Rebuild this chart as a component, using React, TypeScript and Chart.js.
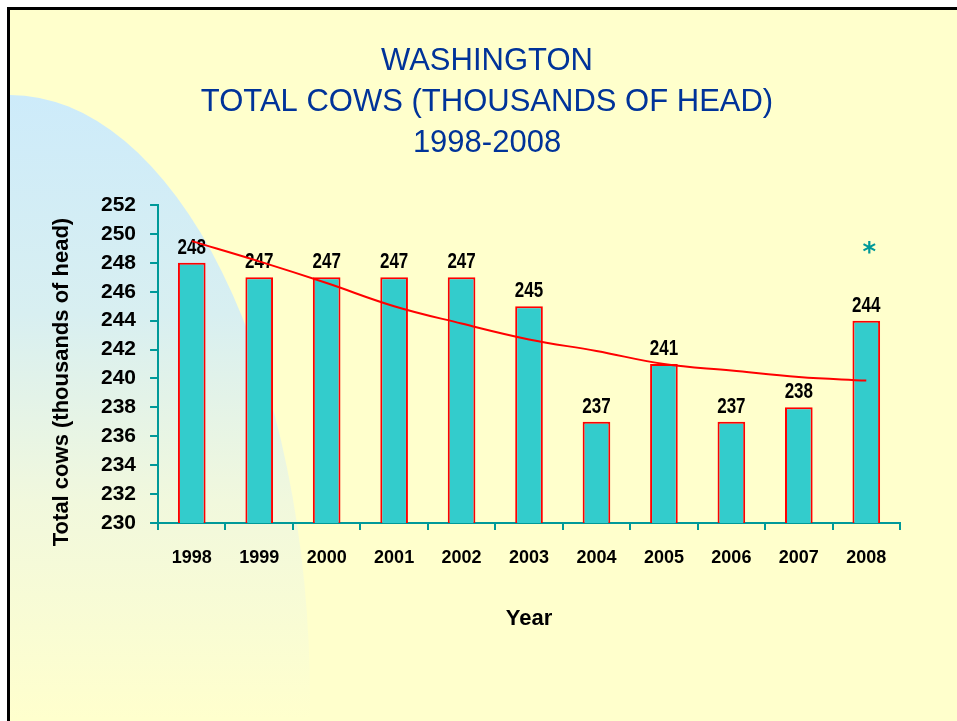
import React, { useEffect, useRef } from 'react';
import { Chart, registerables } from 'chart.js';

Chart.register(...registerables);

const years = ['1998', '1999', '2000', '2001', '2002', '2003', '2004', '2005', '2006', '2007', '2008'];
const totalCows = [248, 247, 247, 247, 247, 245, 237, 241, 237, 238, 244];
const trendValues = [249.5, 248.1, 246.6, 245.0, 243.8, 242.7, 241.9, 241.0, 240.55, 240.1, 239.85];
const noteMarks = ['', '', '', '', '', '', '', '', '', '', '*'];
const noteLevels = [null, null, null, null, null, null, null, null, null, null, 248.5];
const titleLines = ['WASHINGTON', 'TOTAL COWS (THOUSANDS OF HEAD)', '1998-2008'];
const yAxisTitle = 'Total cows (thousands of head)';
const xAxisTitle = 'Year';
const yMin = 230;
const yMax = 252;
const yStep = 2;

const TEAL = '#009999';
const FONT = "'Liberation Sans', Arial, sans-serif";

const backgroundPlugin = {
  id: 'slideBackground',
  beforeDraw(chart: any) {
    const { ctx, width, height } = chart;
    ctx.save();
    ctx.fillStyle = '#ffffff';
    ctx.fillRect(0, 0, width, height);
    ctx.fillStyle = '#FFFFCC';
    ctx.fillRect(8, 8, width - 8, height - 8);
    ctx.beginPath();
    ctx.rect(10, 10, width, height);
    ctx.clip();
    const g = ctx.createLinearGradient(0, 95, 0, 720);
    g.addColorStop(0, '#CDEBFA');
    g.addColorStop(0.35, '#D8EFF1');
    g.addColorStop(0.65, '#F1F8DD');
    g.addColorStop(1, '#FFFFCD');
    ctx.fillStyle = g;
    ctx.beginPath();
    ctx.ellipse(10, 700, 300, 605, 0, 0, Math.PI * 2);
    ctx.fill();
    ctx.restore();
    ctx.save();
    ctx.fillStyle = '#000000';
    ctx.fillRect(7, 7, 3, height - 7);
    ctx.fillRect(7, 7, width - 7, 3);
    ctx.restore();
  },
};

const slideTitlePlugin = {
  id: 'slideTitle',
  afterDraw(chart: any) {
    const { ctx } = chart;
    ctx.save();
    ctx.fillStyle = '#003399';
    ctx.font = `31px ${FONT}`;
    ctx.textAlign = 'center';
    ctx.textBaseline = 'alphabetic';
    titleLines.forEach((line, i) => {
      ctx.fillText(line, 487, 70 + i * 41);
    });
    ctx.restore();
  },
};

const barLabelPlugin = {
  id: 'barLabels',
  afterDatasetDraw(chart: any, args: any) {
    if (args.index !== 0) return;
    const { ctx } = chart;
    const meta = chart.getDatasetMeta(0);
    ctx.save();
    ctx.fillStyle = '#000000';
    ctx.textAlign = 'center';
    ctx.textBaseline = 'alphabetic';
    ctx.font = `bold 17px ${FONT}`;
    meta.data.forEach((bar: any, i: number) => {
      const x = bar.x;
      const y = bar.y - 9;
      ctx.save();
      ctx.translate(x, y);
      ctx.scale(1, 1.3);
      ctx.fillText(String(totalCows[i]), 0, 0);
      ctx.restore();
    });
    ctx.restore();
  },
};

const extrasPlugin = {
  id: 'extras',
  afterDraw(chart: any) {
    const { ctx, chartArea, scales } = chart;
    ctx.save();
    ctx.fillStyle = '#000000';
    ctx.font = `bold 22px ${FONT}`;
    ctx.textAlign = 'center';
    ctx.textBaseline = 'middle';
    ctx.translate(62, (chartArea.top + chartArea.bottom) / 2 + 18);
    ctx.rotate(-Math.PI / 2);
    ctx.fillText(yAxisTitle, 0, 0);
    ctx.restore();
    ctx.save();
    ctx.fillStyle = TEAL;
    ctx.font = `bold 26px 'DejaVu Sans', sans-serif`;
    ctx.textAlign = 'center';
    ctx.textBaseline = 'middle';
    noteMarks.forEach((m, i) => {
      const v = noteLevels[i];
      if (!m || v === null) return;
      const x = scales.x.getPixelForValue(i);
      const y = scales.y.getPixelForValue(v);
      ctx.fillText(m, x + 3, y - 1);
    });
    ctx.restore();
  },
};

export default function App() {
  const ref = useRef<HTMLCanvasElement | null>(null);

  useEffect(() => {
    if (!ref.current) return;
    const chart = new Chart(ref.current, {
      type: 'bar',
      data: {
        labels: years,
        datasets: [
          {
            type: 'bar',
            label: 'Total cows',
            data: totalCows,
            backgroundColor: '#33CCCC',
            borderColor: '#FF0000',
            borderWidth: 2,
            borderSkipped: false,
            barPercentage: 0.41,
            categoryPercentage: 1,
            order: 1,
          },
          {
            type: 'line',
            label: 'Trend',
            data: trendValues,
            borderColor: '#FF0000',
            borderWidth: 2,
            pointRadius: 0,
            tension: 0.4,
            fill: false,
            order: 0,
          } as any,
        ],
      },
      options: {
        animation: false,
        responsive: false,
        maintainAspectRatio: false,
        layout: { padding: { left: 87, right: 57, top: 205, bottom: 89 } },
        plugins: {
          legend: { display: false },
          tooltip: { enabled: false },
          title: { display: false },
        },
        scales: {
          x: {
            grid: {
              display: true,
              drawOnChartArea: false,
              drawTicks: true,
              tickLength: 7,
              color: TEAL,
              lineWidth: 2,
              offset: true,
            },
            border: { display: true, color: TEAL, width: 2 },
            ticks: {
              color: '#000000',
              font: { family: FONT, size: 18, weight: 'bold' },
              padding: 17,
              maxRotation: 0,
              autoSkip: false,
            },
            title: {
              display: true,
              text: xAxisTitle,
              color: '#000000',
              font: { family: FONT, size: 22, weight: 'bold' },
              padding: { top: 20, bottom: 0 },
            },
          },
          y: {
            min: yMin,
            max: yMax,
            grid: {
              display: true,
              drawOnChartArea: false,
              drawTicks: true,
              tickLength: 8,
              color: TEAL,
              lineWidth: 2,
            },
            border: { display: true, color: TEAL, width: 2 },
            ticks: {
              stepSize: yStep,
              color: '#000000',
              font: { family: FONT, size: 21, weight: 'bold' },
              padding: 14,
            },
          },
        },
      },
      plugins: [backgroundPlugin, barLabelPlugin, extrasPlugin, slideTitlePlugin],
    });
    return () => chart.destroy();
  }, []);

  return (
    <div style={{ position: 'fixed', left: 0, top: 0, width: 957, height: 721 }}>
      <canvas ref={ref} width={957} height={721} style={{ display: 'block', width: 957, height: 721 }} />
    </div>
  );
}
